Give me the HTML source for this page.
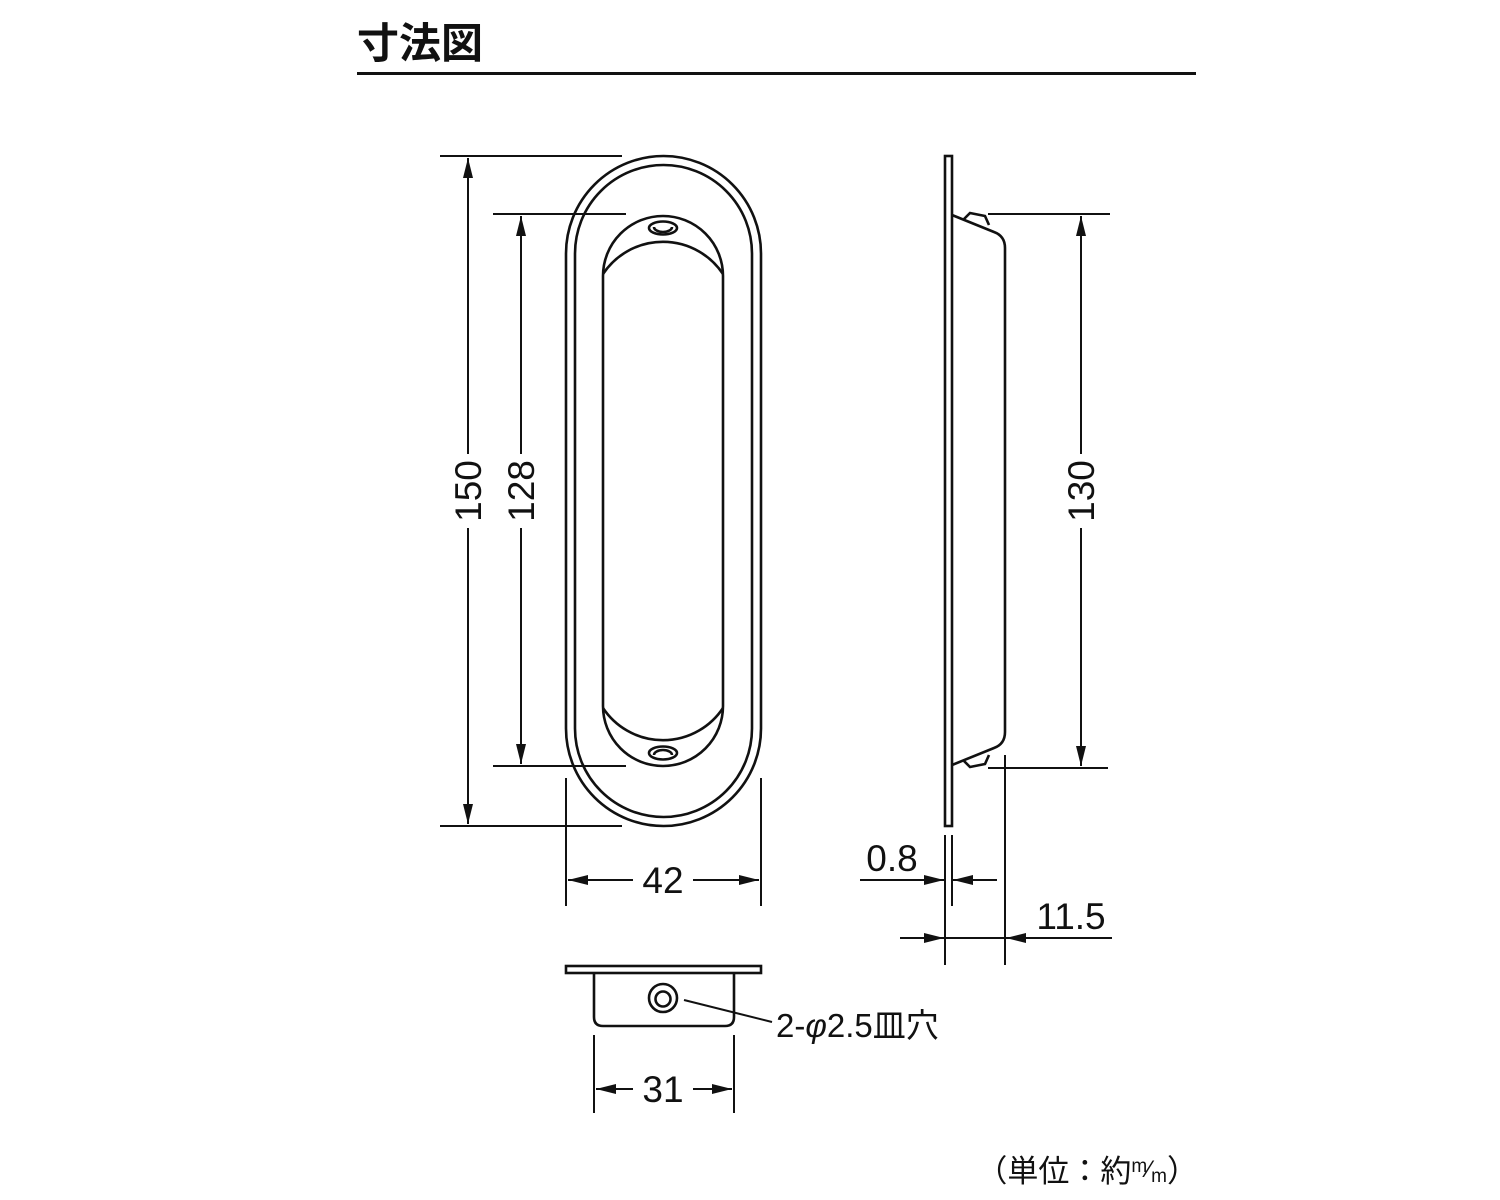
<!DOCTYPE html>
<html><head><meta charset="utf-8"><style>
html,body{margin:0;padding:0;background:#fff;}
svg{display:block;}
text{font-family:"Liberation Sans","Noto Sans CJK JP",sans-serif;fill:#111;}
</style></head><body>
<svg width="1500" height="1200" viewBox="0 0 1500 1200" xmlns="http://www.w3.org/2000/svg">
<defs>
<marker id="a" viewBox="0 0 20 10" refX="20" refY="5" markerWidth="20" markerHeight="10" markerUnits="userSpaceOnUse" orient="auto-start-reverse"><path d="M0,0 L20,5 L0,10 z" fill="#111"/></marker>
</defs>
<text x="357" y="58" font-size="42" font-weight="bold">寸法図</text>
<line x1="357" y1="73.5" x2="1196" y2="73.5" stroke="#111" stroke-width="3"/>

<g fill="none" stroke="#111" stroke-width="2.6">
<path d="M566,253.5 A97.5,97.5 0 0 1 761,253.5 L761,728.5 A97.5,97.5 0 0 1 566,728.5 Z"/>
<path d="M575,253.5 A88.5,88.5 0 0 1 752,253.5 L752,728.5 A88.5,88.5 0 0 1 575,728.5 Z"/>
<path d="M603,276 A60,60 0 0 1 723,276 L723,706 A60,60 0 0 1 603,706 Z"/>
<path d="M603,274 A72,72 0 0 1 723,274"/>
<path d="M603,708 A72,72 0 0 0 723,708"/>
<ellipse cx="663" cy="228" rx="14" ry="6.5"/>
<path d="M654,227 A9,5 0 0 0 672,227"/>
<ellipse cx="663" cy="753" rx="14" ry="6.5"/>
<path d="M654,755 A9,5 0 0 1 672,755"/>

<rect x="945" y="156" width="7" height="670"/>
<path d="M952,215 L994,232 Q1005,236 1005,248 L1005,732 Q1005,744 994,748 L952,765"/>
<path d="M964,219 L970,213 L985,216 L989,225"/>
<path d="M964,761 L970,767 L985,764 L989,755"/>

<rect x="566" y="966" width="195" height="7"/>
<path d="M594,973 L594,1017 Q594,1026 603,1026 L725,1026 Q734,1026 734,1017 L734,973"/>
<circle cx="663" cy="998" r="14"/>
<circle cx="663" cy="999" r="7.5"/>
</g>

<g stroke="#111" stroke-width="2" fill="none">
<line x1="440" y1="156" x2="622" y2="156"/>
<line x1="440" y1="826" x2="622" y2="826"/>
<line x1="468" y1="454" x2="468" y2="158" marker-end="url(#a)"/>
<line x1="468" y1="528" x2="468" y2="824" marker-end="url(#a)"/>
<line x1="493" y1="214" x2="626" y2="214"/>
<line x1="493" y1="766" x2="626" y2="766"/>
<line x1="521" y1="454" x2="521" y2="216" marker-end="url(#a)"/>
<line x1="521" y1="528" x2="521" y2="764" marker-end="url(#a)"/>
<line x1="566" y1="778" x2="566" y2="906"/>
<line x1="761" y1="778" x2="761" y2="906"/>
<line x1="633" y1="880" x2="568" y2="880" marker-end="url(#a)"/>
<line x1="693" y1="880" x2="759" y2="880" marker-end="url(#a)"/>
<line x1="988" y1="214" x2="1110" y2="214"/>
<line x1="988" y1="768" x2="1108" y2="768"/>
<line x1="1081" y1="454" x2="1081" y2="216" marker-end="url(#a)"/>
<line x1="1081" y1="528" x2="1081" y2="766" marker-end="url(#a)"/>
<line x1="945" y1="835" x2="945" y2="965"/>
<line x1="952" y1="835" x2="952" y2="906"/>
<line x1="1005" y1="755" x2="1005" y2="965"/>
<line x1="860" y1="880" x2="944" y2="880" marker-end="url(#a)"/>
<line x1="997" y1="880" x2="953" y2="880" marker-end="url(#a)"/>
<line x1="900" y1="938" x2="944" y2="938" marker-end="url(#a)"/>
<line x1="945" y1="938" x2="1005" y2="938"/>
<line x1="1112" y1="938" x2="1006" y2="938" marker-end="url(#a)"/>
<line x1="594" y1="1035" x2="594" y2="1113"/>
<line x1="734" y1="1035" x2="734" y2="1113"/>
<line x1="633" y1="1089" x2="596" y2="1089" marker-end="url(#a)"/>
<line x1="693" y1="1089" x2="732" y2="1089" marker-end="url(#a)"/>
<line x1="684" y1="1000" x2="772" y2="1022"/>
</g>

<g font-size="37">
<text transform="translate(481,491) rotate(-90)" text-anchor="middle">150</text>
<text transform="translate(534,491) rotate(-90)" text-anchor="middle">128</text>
<text transform="translate(1094,491) rotate(-90)" text-anchor="middle">130</text>
<text x="663" y="893" text-anchor="middle">42</text>
<text x="663" y="1102" text-anchor="middle">31</text>
<text x="892" y="871" text-anchor="middle">0.8</text>
<text x="1071" y="929" text-anchor="middle">11.5</text>
</g>
<text x="776" y="1037" font-size="33">2-<tspan font-style="italic">φ</tspan>2.5皿穴</text>
<text x="1198" y="1182" font-size="31" text-anchor="end">（単位：約<tspan font-size="19" dy="-10">m</tspan><tspan font-size="24" dy="5">⁄</tspan><tspan font-size="19" dy="5">m</tspan><tspan dy="0">）</tspan></text>
</svg>
</body></html>
